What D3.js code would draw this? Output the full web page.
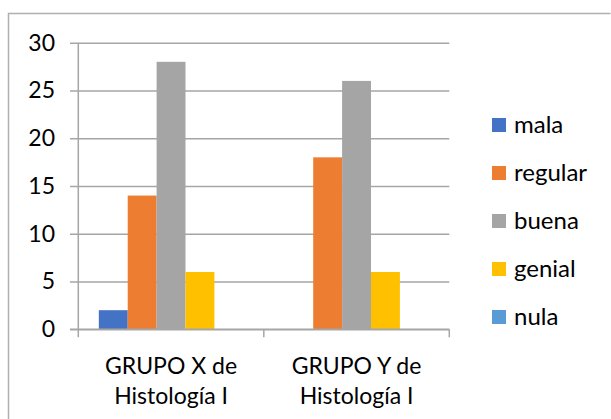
<!DOCTYPE html>
<html>
<head>
<meta charset="utf-8">
<script src="https://cdn.jsdelivr.net/npm/d3@7"></script>
<style>
  html, body { margin: 0; padding: 0; background: #fff; }
  svg { display: block; }
  text { font-family: Lato, "Open Sans", sans-serif; fill: #000; }
</style>
</head>
<body>
<svg id="chart" width="611" height="419"></svg>
<script>
// ---- data ----
const categories = ["GRUPO X de Histología I", "GRUPO Y de Histología I"];
const categoryLines = [["GRUPO X de", "Histología I"], ["GRUPO Y de", "Histología I"]];
const seriesNames = ["mala", "regular", "buena", "genial", "nula"];
const seriesColors = ["#4472C4", "#ED7D31", "#A5A5A5", "#FFC000", "#5B9BD5"];
const mala = [2, 0];
const regular = [14, 18];
const buena = [28, 26];
const genial = [6, 6];
const nula = [0, 0];
const yTicks = [0, 5, 10, 15, 20, 25, 30];

const seriesValues = [mala, regular, buena, genial, nula];

// ---- layout ----
const svg = d3.select("#chart");
const plotLeft = 78.3, plotRight = 449.3, plotTop = 42.7, plotBottom = 329.3;
const gridLeft = 70;
const fontSize = 23;
const legendFontSize = 24;
const gridColor = "#a6a6a6";

// outer frame (top and left edges visible)
svg.append("path")
  .attr("d", `M8.5,419 L8.5,13.5 L610.5,13.5`)
  .attr("fill", "none").attr("stroke", "#b0b0b0").attr("stroke-width", 1.5);

const x0 = d3.scaleBand().domain(categories).range([plotLeft, plotRight]).padding(0);
const x1 = d3.scaleBand().domain(seriesNames).range([0, x0.bandwidth()]).paddingInner(0).paddingOuter(0.71);
const y = d3.scaleLinear().domain([0, 30]).range([plotBottom, plotTop]);
const color = d3.scaleOrdinal().domain(seriesNames).range(seriesColors);

// y gridlines + labels
const yAxis = d3.axisLeft(y).tickValues(yTicks)
  .tickSize(-(plotRight - gridLeft)).tickSizeOuter(0).tickPadding(15);
const yg = svg.append("g").attr("transform", `translate(${gridLeft},0)`).call(yAxis);
yg.select(".domain").remove();
yg.selectAll(".tick line").attr("stroke", gridColor).attr("stroke-width", 1.5);
yg.selectAll(".tick text").attr("font-size", fontSize).attr("font-family", "Lato").attr("fill", "#000");

// vertical axis line
svg.append("line")
  .attr("x1", plotLeft).attr("x2", plotLeft)
  .attr("y1", y(30)).attr("y2", plotBottom + 8)
  .attr("stroke", gridColor).attr("stroke-width", 1.5);

// bars
const groups = svg.append("g").selectAll("g").data(categories).join("g")
  .attr("transform", d => `translate(${x0(d)},0)`);
groups.selectAll("rect")
  .data((c, ci) => seriesNames.map((s, si) => ({ s, v: seriesValues[si][ci] })))
  .join("rect")
  .attr("x", d => x1(d.s))
  .attr("width", x1.bandwidth())
  .attr("y", d => y(d.v))
  .attr("height", d => y(0) - y(d.v))
  .attr("fill", d => color(d.s));

// x baseline + category boundary ticks
svg.append("line")
  .attr("x1", gridLeft).attr("x2", plotRight)
  .attr("y1", y(0)).attr("y2", y(0))
  .attr("stroke", gridColor).attr("stroke-width", 1.5);
const boundaries = categories.map(c => x0(c)).concat([x0.range()[1]]);
svg.append("g").selectAll("line").data(boundaries.slice(1)).join("line")
  .attr("x1", d => d).attr("x2", d => d)
  .attr("y1", y(0)).attr("y2", y(0) + 8)
  .attr("stroke", gridColor).attr("stroke-width", 1.5);

// category labels
const catG = svg.append("g").selectAll("text").data(categories).join("text")
  .attr("text-anchor", "middle")
  .attr("font-size", fontSize)
  .attr("x", d => x0(d) + x0.bandwidth() / 2)
  .attr("y", 374);
catG.selectAll("tspan").data((d, i) => categoryLines[i]).join("tspan")
  .attr("x", function () { return d3.select(this.parentNode).attr("x"); })
  .attr("dy", (d, i) => i === 0 ? 0 : 30)
  .text(d => d);

// legend
const legend = svg.append("g").selectAll("g").data(seriesNames).join("g")
  .attr("transform", (d, i) => `translate(492,${125 + i * 48})`);
legend.append("rect")
  .attr("x", 0).attr("y", -7).attr("width", 14).attr("height", 14)
  .attr("fill", d => color(d));
legend.append("text")
  .attr("x", 22).attr("y", 8)
  .attr("font-size", legendFontSize)
  .text(d => d);
</script>
</body>
</html>
